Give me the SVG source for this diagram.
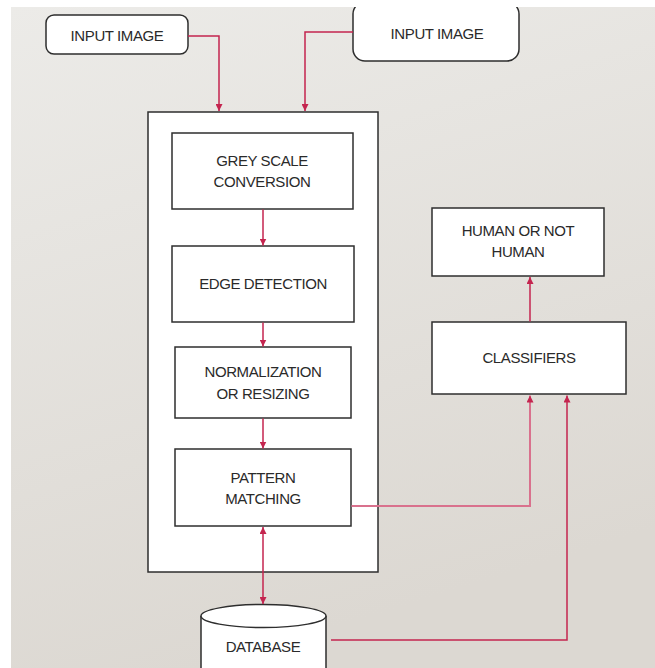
<svg xmlns="http://www.w3.org/2000/svg" width="655" height="668" viewBox="0 0 655 668">
  <defs>
    <linearGradient id="bg" x1="0" y1="0" x2="0.3" y2="1">
      <stop offset="0" stop-color="#ecebe8"/>
      <stop offset="1" stop-color="#dcd8d2"/>
    </linearGradient>
    <marker id="ah" viewBox="0 0 10 10" refX="10" refY="5" markerWidth="7" markerHeight="7" markerUnits="userSpaceOnUse" orient="auto-start-reverse">
      <path d="M0,0 L10,5 L0,10 z" fill="#c4254f"/>
    </marker>
    <marker id="ah2" viewBox="0 0 10 10" refX="10" refY="5" markerWidth="7" markerHeight="7" markerUnits="userSpaceOnUse" orient="auto">
      <path d="M0,0 L10,5 L0,10 z" fill="#c4254f"/>
    </marker>
  </defs>
  <style>
    .box { fill: #ffffff; stroke: #2e2e2e; stroke-width: 1.5; }
    .lbl { font-family: "Liberation Sans", Arial, sans-serif; font-size: 15px; fill: #2a2a2a; text-anchor: middle; letter-spacing: -0.4px; }
    .conn { fill: none; stroke: #c4254f; stroke-width: 1.5; }
    .conn-light { fill: none; stroke: #d9718d; stroke-width: 2; }
  </style>
  <rect x="0" y="0" width="655" height="668" fill="#ffffff"/>
  <rect x="11" y="7" width="644" height="661" fill="url(#bg)"/>

  <g id="input-image-1">
    <rect class="box" x="46" y="15" width="142" height="39" rx="8"/>
    <text class="lbl" x="117" y="40.5">INPUT IMAGE</text>
  </g>
  <g id="input-image-2">
    <rect class="box" x="353" y="2" width="166" height="59" rx="12"/>
    <text class="lbl" x="437" y="38.5">INPUT IMAGE</text>
  </g>
  <rect x="340" y="0" width="200" height="7" fill="#ffffff"/>

  <g id="container">
    <rect class="box" x="148" y="112" width="230" height="460"/>
  </g>
  <g id="grey-scale">
    <rect class="box" x="172" y="133" width="181" height="76"/>
    <text class="lbl" x="262" y="165.5">GREY SCALE</text>
    <text class="lbl" x="262" y="187">CONVERSION</text>
  </g>
  <g id="edge-detection">
    <rect class="box" x="172" y="246" width="182" height="76"/>
    <text class="lbl" x="263" y="289">EDGE DETECTION</text>
  </g>
  <g id="normalization">
    <rect class="box" x="175" y="347" width="176" height="71"/>
    <text class="lbl" x="263" y="377">NORMALIZATION</text>
    <text class="lbl" x="263" y="398.5">OR RESIZING</text>
  </g>
  <g id="pattern-matching">
    <rect class="box" x="175" y="449" width="176" height="77"/>
    <text class="lbl" x="263" y="482.5">PATTERN</text>
    <text class="lbl" x="263" y="504">MATCHING</text>
  </g>
  <g id="human-or-not">
    <rect class="box" x="432" y="208" width="172" height="68"/>
    <text class="lbl" x="518" y="235.5">HUMAN OR NOT</text>
    <text class="lbl" x="518" y="257">HUMAN</text>
  </g>
  <g id="classifiers">
    <rect class="box" x="432" y="322" width="194" height="72"/>
    <text class="lbl" x="529" y="362.5">CLASSIFIERS</text>
  </g>
  <g id="database">
    <path class="box" d="M201,616 L201,672 L326,672 L326,616"/>
    <ellipse class="box" cx="263.5" cy="616" rx="62.5" ry="11.5"/>
    <text class="lbl" x="263" y="652">DATABASE</text>
  </g>

  <g id="connectors">
    <polyline class="conn" points="188,36 219,36 219,111" marker-end="url(#ah)"/>
    <polyline class="conn" points="353,32 305,32 305,111" marker-end="url(#ah)"/>
    <line class="conn" x1="263" y1="209.5" x2="263" y2="245.5" marker-end="url(#ah)"/>
    <line class="conn" x1="263" y1="322.5" x2="263" y2="346.5" marker-end="url(#ah)"/>
    <line class="conn" x1="263" y1="418.5" x2="263" y2="448.5" marker-end="url(#ah)"/>
    <line class="conn" x1="263" y1="527" x2="263" y2="604" marker-start="url(#ah)" marker-end="url(#ah)"/>
    <line class="conn" x1="530" y1="321.5" x2="530" y2="277" marker-end="url(#ah)"/>
    <polyline class="conn-light" points="351.5,506 530,506 530,395.5" marker-end="url(#ah2)"/>
    <polyline class="conn" points="331,640 567,640 567,395.5" marker-end="url(#ah)"/>
  </g>
</svg>
